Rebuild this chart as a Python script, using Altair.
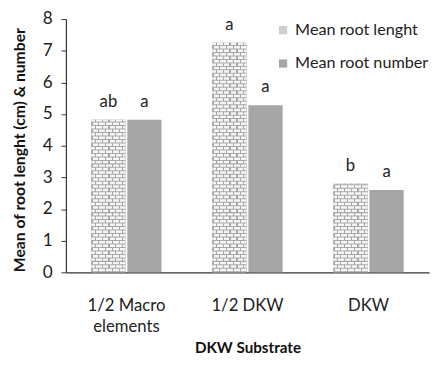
import altair as alt
import pandas as pd
import numpy as np

# ---- data ----
categories = ["1/2 Macro elements", "1/2 DKW", "DKW"]
series = ["Mean root lenght", "Mean root number"]
root_length = [4.82, 7.25, 2.80]
root_number = [4.82, 5.28, 2.60]
length_letters = ["ab", "a", "b"]
number_letters = ["a", "a", "a"]
y_ticks = [0, 1, 2, 3, 4, 5, 6, 7, 8]

rows = []
for c, v, l in zip(categories, root_length, length_letters):
    rows.append({"cat": c, "series": series[0], "value": v, "letter": l})
for c, v, l in zip(categories, root_number, number_letters):
    rows.append({"cat": c, "series": series[1], "value": v, "letter": l})
df = pd.DataFrame(rows)

# brick texture rows for the "length" bars (derived from the values)
ROW = 0.11
GAP = 0.032
brick_rows = []
for c, v in zip(categories, root_length):
    n = int(np.ceil(v / ROW))
    for i in range(n):
        y0 = i * ROW + GAP
        y1 = min((i + 1) * ROW, v)
        if y1 > y0:
            brick_rows.append({"cat": c, "series": series[0], "y0": y0, "y1": y1, "parity": i % 2})
bricks = pd.DataFrame(brick_rows)

MORTAR = "#a8a8a8"
BRICK = "#f6f6f6"


def brick_gradient(shift):
    stops = []
    n = 5
    w = 0.035
    for k in range(n):
        a = (k / n + shift) % 1.0
        stops.append((a, MORTAR))
        stops.append((a + w, BRICK))
    stops.sort()
    out = [{"offset": 0.0, "color": BRICK}]
    cur = BRICK
    for off, col in stops:
        off = min(off, 1.0)
        out.append({"offset": off, "color": cur})
        out.append({"offset": off, "color": col})
        cur = col
    out.append({"offset": 1.0, "color": cur})
    return {"gradient": "linear", "x1": 0, "y1": 0, "x2": 1, "y2": 0, "stops": out}


grad_a = brick_gradient(0.0)
grad_b = brick_gradient(0.1)

FONT = "Lato"

x_axis = alt.Axis(title="DKW Substrate",
                  labelExpr="datum.label == '1/2 Macro elements' ? ['1/2 Macro', 'elements'] : datum.label",
                  labelAngle=0, ticks=False, labelFontSize=17, labelColor="#222222",
                  labelPadding=26, labelLineHeight=21, labelFont=FONT,
                  titleFont=FONT, titleFontSize=15.5, titleFontWeight="bold",
                  titleColor="#111111", titleY=77, titleBaseline="middle",
                  domainColor="#333333", domainWidth=1.2)
y_axis = alt.Axis(title="Mean of root lenght (cm)  & number", values=y_ticks,
                  labelOverlap=False, tickCount=9,
                  grid=False, tickSize=5, tickColor="#333333", domainColor="#333333",
                  domainWidth=1.2, labelFontSize=17.5, labelFont=FONT, labelColor="#222222",
                  labelPadding=9, titleFont=FONT, titleFontSize=16,
                  titleFontWeight="bold", titleColor="#111111",
                  titleAngle=270, titleX=-47, titleY=133, titleBaseline="middle",
                  titleAlign="center")
x_scale = alt.Scale(paddingInner=0.42, paddingOuter=0.21)
xo_scale = alt.Scale(domain=series, paddingInner=0.05, paddingOuter=0)
y_scale = alt.Scale(domain=[0, 8], nice=False)


def X():
    return alt.X("cat:N", sort=categories, scale=x_scale, axis=x_axis)


def XO():
    return alt.XOffset("series:N", sort=series, scale=xo_scale)


def Y(field):
    return alt.Y(field, scale=y_scale, axis=y_axis)


base = alt.Chart(df)

bars = base.mark_bar().encode(
    x=X(),
    xOffset=XO(),
    y=Y("value:Q"),
    color=alt.Color("series:N", sort=series,
                    scale=alt.Scale(domain=series, range=["#cfcfcf", "#a6a6a6"]),
                    legend=alt.Legend(title=None, orient="none", legendX=213, legendY=3,
                                      labelFont=FONT, labelFontSize=16.5, labelColor="#222222",
                                      labelLimit=400,
                                      symbolType="square", symbolSize=70, symbolStrokeWidth=0,
                                      rowPadding=17, labelOffset=4)),
)

length_top = alt.Chart(pd.DataFrame({"cat": categories, "series": series[0], "value": root_length})).mark_bar(
    color=MORTAR, strokeWidth=0).encode(
    x=X(),
    xOffset=XO(),
    y=Y("value:Q"),
)

under = alt.Chart(bricks).mark_bar(color=MORTAR).encode(
    x=X(),
    xOffset=XO(),
    y=Y("y0:Q"),
    y2="y1:Q",
    fill=alt.condition("datum.parity == 0", alt.value(grad_a), alt.value(grad_b)),
)

labels = base.mark_text(font=FONT, fontSize=17, color="#222222", baseline="middle", dy=-18).encode(
    x=X(),
    xOffset=XO(),
    y=Y("value:Q"),
    text="letter:N",
)

chart = alt.layer(bars, length_top, under, labels).properties(
    width=370, height=258,
    autosize=alt.AutoSizeParams(type="none"),
    padding={"left": 59, "top": 8, "right": 4, "bottom": 85},
).configure(background="white").configure_view(stroke=None)

chart.save("out.html", embed_options={"renderer": "svg", "actions": False})
